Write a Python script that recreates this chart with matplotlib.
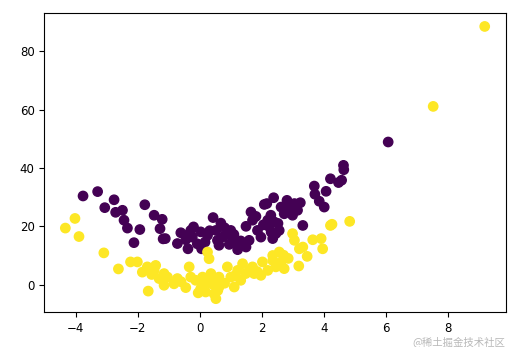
import numpy as np
import matplotlib.pyplot as plt

# class 0 (purple) points
x0 = [-3.76, -3.29, -3.06, -2.76, -2.71, -2.49, -2.44, -2.33, -1.93, -2.12,
      -1.77, -1.47, -1.21, -1.28, -1.18, -1.11, -0.72, -0.61, -0.45, -0.38,
      -0.29, -0.20, -0.24, 0.03, 0.06, 0.17, 0.25, 0.43, 0.52, 0.57,
      0.68, 0.73, 0.89, 1.00, 1.05, 1.16, 1.22, 1.32, 1.49, 1.49,
      1.59, 1.65, 1.70, 1.81, 1.86, 1.97, 2.08, 2.16, 2.19, 2.24,
      2.29, 2.38, 2.40, 2.35, 2.45, 2.56, 2.62, 2.72, 2.81, 2.88,
      2.99, 3.05, 3.15, 3.24, 3.32, 3.69, 3.71, 3.85, 4.01, 4.07,
      4.21, 4.47, 4.57, 4.63, 4.64, 6.07,
      -0.40, -0.08, 0.32, 0.62, 0.80, 0.95, 1.10, 2.05, 2.30, 2.52]
y0 = [30.4, 31.9, 26.4, 29.1, 24.8, 25.5, 22.1, 19.4, 18.9, 14.4,
      27.4, 23.8, 22.4, 19.2, 15.7, 15.8, 14.1, 17.8, 15.4, 12.3,
      18.6, 19.8, 16.3, 18.1, 12.3, 14.6, 16.9, 23.0, 18.6, 15.2,
      21.1, 16.3, 17.5, 18.6, 15.2, 14.1, 12.0, 15.0, 12.9, 20.0,
      15.2, 24.9, 22.1, 23.4, 18.6, 16.3, 27.5, 27.8, 22.1, 19.8,
      23.8, 29.8, 21.5, 15.8, 17.5, 18.6, 26.6, 24.3, 28.9, 26.1,
      23.8, 27.8, 25.5, 28.1, 20.3, 33.8, 31.0, 28.6, 26.6, 32.0,
      36.3, 35.0, 35.8, 40.9, 39.4, 48.9,
      17.0, 14.0, 18.5, 13.5, 19.5, 13.8, 17.2, 20.5, 18.0, 21.0]

# class 1 (yellow) points
x1 = [-4.33, -4.02, -3.89, -3.09, -2.62, -2.23, -2.01, -1.85, -1.66, -1.69,
      -1.47, -1.42, -1.31, -1.15, -1.15, -1.04, -0.83, -0.72, -0.45, -0.34,
      -0.29, -0.13, 0.03, 0.09, 0.19, 0.25, 0.30, 0.36, 0.38, 0.46,
      0.52, 0.62, 0.62, 0.89, 1.00, 1.11, 1.22, 1.32, 1.38, 1.70,
      1.75, 1.97, 2.02, 2.19, 2.35, 2.45, 2.56, 2.62, 2.72, 2.70,
      2.99, 3.05, 3.19, 3.21, 3.32, 3.46, 3.64, 3.91, 3.96, 4.21,
      4.26, 4.83, 7.52, 9.18,
      -1.55, -0.05, 0.58, 0.26, 0.80, 1.12, 1.48, 1.85, 2.35, 2.85,
      -0.60, 0.10, 0.45, 1.60, 2.60]
y1 = [19.4, 22.7, 16.5, 10.9, 5.4, 7.8, 7.8, 4.3, -2.2, 6.1,
      4.9, 6.6, 2.1, 3.8, -0.2, 2.6, 0.3, 2.1, -1.0, 6.1,
      2.6, 1.5, -1.4, 2.6, -2.5, 11.2, 8.9, 3.8, 0.3, -3.1,
      -4.8, -0.8, 2.6, 6.1, 2.6, -0.8, 4.9, 1.5, 7.2, 6.1,
      3.8, 3.2, 7.8, 4.9, 8.3, 6.1, 11.2, 7.8, 5.5, 10.1,
      17.5, 15.2, 6.4, 12.3, 12.9, 9.7, 15.4, 15.8, 12.3, 20.3,
      20.7, 21.7, 61.1, 88.5,
      3.5, -2.8, -2.0, 1.0, 0.5, 3.0, 3.8, 4.5, 10.0, 9.0,
      1.0, 0.0, 1.2, 5.0, 6.8]

x = np.array(x0 + x1)
y = np.array(y0 + y1)
labels = np.array([0] * len(x0) + [1] * len(x1))

fig = plt.figure(figsize=(5.16, 3.47), dpi=100)
ax = fig.add_axes([0.086, 0.100, 0.894, 0.863])
ax.scatter(x, y, c=labels, s=45, cmap='viridis')
ax.tick_params(labelsize=8.5)

# watermark, kept just below the tick labels
fig.text(0.98, 0.016, '@稀土掘金技术社区', ha='right', va='center',
         fontsize=7.5, color='#b8b8b8',
         family=['Noto Sans CJK SC', 'DejaVu Sans'])

fig.savefig('out.png', dpi=100)
